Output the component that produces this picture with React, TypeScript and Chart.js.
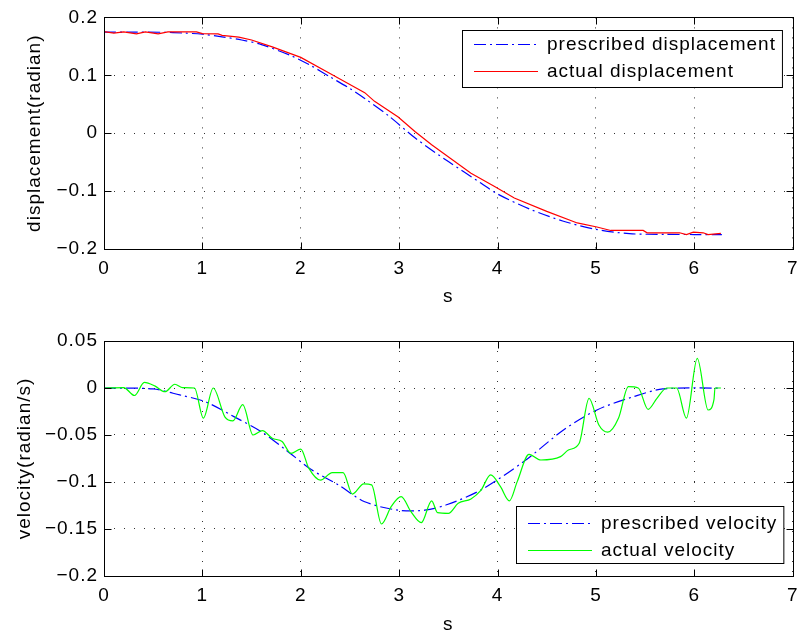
import React, { useEffect, useRef } from 'react';
import { Chart, registerables } from 'chart.js';
Chart.register(...registerables);

const FONT = '"Liberation Sans", Arial, Helvetica, sans-serif';
const FONT_SIZE = 19;
const LETTER_SPACING = '1px';

// ---- axis ticks ----
const xMin = 0;
const xMax = 7;
const xStep = 1;
const dispMin = -0.2;
const dispMax = 0.2;
const dispStep = 0.1;
const velMin = -0.2;
const velMax = 0.05;
const velStep = 0.05;

// ---- labels ----
const xTitle = 's';
const dispTitle = 'displacement(radian)';
const velTitle = 'velocity(radian/s)';
const dispLegend = ['prescribed displacement', 'actual displacement'];
const velLegend = ['prescribed velocity', 'actual velocity'];

// ---- displacement data ----
const presDispT = [0, 0.3, 0.6, 0.8, 1.0, 1.2, 1.4, 1.6, 1.9, 2.1, 2.3, 2.5, 2.65, 2.9, 3.16, 3.5, 3.83, 4.0, 4.34, 4.67, 5.0, 5.34, 5.7, 6.0, 6.28];
const presDispV = [0.1745, 0.1745, 0.1743, 0.173, 0.171, 0.1665, 0.161, 0.153, 0.134, 0.117, 0.097, 0.077, 0.06, 0.029, -0.008, -0.049, -0.086, -0.105, -0.132, -0.152, -0.166, -0.1735, -0.1748, -0.175, -0.175];

const actDispT = [0, 0.1, 0.2, 0.33, 0.42, 0.55, 0.65, 0.94, 1.0, 1.16, 1.2, 1.37, 1.5, 1.71, 2.0, 2.32, 2.65, 2.75, 2.99, 3.16, 3.33, 3.73, 3.97, 4.17, 4.5, 4.81, 5.01, 5.15, 5.48, 5.52, 5.85, 5.92, 5.99, 6.09, 6.14, 6.27];
const actDispV = [0.1755, 0.173, 0.175, 0.1715, 0.175, 0.1715, 0.175, 0.175, 0.172, 0.1715, 0.169, 0.166, 0.161, 0.149, 0.131, 0.101, 0.07, 0.055, 0.028, 0.003, -0.02, -0.069, -0.092, -0.112, -0.135, -0.155, -0.162, -0.168, -0.168, -0.172, -0.172, -0.175, -0.171, -0.172, -0.175, -0.173];

// ---- velocity data ----
const presVelT = [0, 0.5, 0.77, 1.03, 1.33, 1.6, 1.85, 2.11, 2.38, 2.65, 2.99, 3.26, 3.49, 3.83, 4.27, 4.67, 5.01, 5.38, 5.68, 6.27];
const presVelV = [0, -0.001, -0.0074, -0.0146, -0.031, -0.0465, -0.066, -0.087, -0.103, -0.121, -0.13, -0.13, -0.124, -0.1085, -0.078, -0.0447, -0.0234, -0.0093, -0.001, 0];

const actVelT = [0, 0.2, 0.31, 0.41, 0.52, 0.62, 0.72, 0.8, 0.92, 1.01, 1.11, 1.23, 1.31, 1.41, 1.515, 1.61, 1.71, 1.81, 1.9, 2.0, 2.08, 2.2, 2.32, 2.43, 2.525, 2.64, 2.72, 2.82, 2.92, 3.02, 3.12, 3.225, 3.33, 3.39, 3.5, 3.6, 3.73, 3.83, 3.93, 4.03, 4.12, 4.2, 4.32, 4.44, 4.64, 4.72, 4.83, 4.93, 5.03, 5.12, 5.23, 5.33, 5.43, 5.53, 5.62, 5.72, 5.82, 5.92, 6.03, 6.14, 6.2, 6.21, 6.27];
const actVelV = [0, 0.0005, -0.008, 0.006, 0.002, -0.004, 0.004, 0.0005, 0, -0.032, 0, -0.031, -0.035, -0.0177, -0.05, -0.0454, -0.0535, -0.057, -0.0695, -0.065, -0.085, -0.098, -0.09, -0.09, -0.1128, -0.102, -0.103, -0.1447, -0.126, -0.1156, -0.1316, -0.1433, -0.12, -0.1326, -0.1333, -0.1227, -0.118, -0.109, -0.0925, -0.105, -0.12, -0.0996, -0.0706, -0.0766, -0.073, -0.066, -0.0588, -0.011, -0.0394, -0.047, -0.032, 0.0014, 0, -0.0227, -0.011, 0, 0, -0.032, 0.0316, -0.0234, -0.012, 0, 0];

const BLUE = 'rgb(0,0,255)';
const RED = 'rgb(255,0,0)';
const GREEN = 'rgb(0,255,0)';
const DASHDOT = [12, 4, 2, 4];

function pts(t: number[], v: number[]) {
  return t.map((x, i) => ({ x, y: v[i] }));
}

function fmt(v: number) {
  const r = Number(v.toFixed(3));
  if (r === 0) return '0';
  return r < 0 ? '\u2212' + String(Math.abs(r)) : String(r);
}

type LegendItem = { label: string; color: string; dash: number[] };

type PlotCfg = {
  yTitle: string;
  yTitleX: number;
  xTitleBaseline: number;
  legend: LegendItem[];
  legendPos: 'top' | 'bottom';
  legendRightInset: number;
  legendRows: number[];
};

function makePlugin(cfg: PlotCfg) {
  return {
    id: 'matlabStyle',
    beforeDraw(chart: any) {
      const ctx = chart.ctx;
      ctx.letterSpacing = LETTER_SPACING;
    },
    afterDraw(chart: any) {
      const ctx: CanvasRenderingContext2D = chart.ctx;
      const { left, right, top, bottom } = chart.chartArea;
      const xs = chart.scales.x;
      const ys = chart.scales.y;
      const L = Math.round(left) + 0.5;
      const R = Math.round(right) + 0.5;
      const T = Math.round(top) + 0.5;
      const B = Math.round(bottom) + 0.5;
      ctx.save();
      (ctx as any).letterSpacing = LETTER_SPACING;
      ctx.strokeStyle = '#000';
      ctx.lineWidth = 1;
      ctx.setLineDash([]);
      ctx.strokeRect(L, T, R - L, B - T);
      const TL = 7;
      ctx.beginPath();
      for (const tk of xs.ticks) {
        const px = Math.round(xs.getPixelForValue(tk.value)) + 0.5;
        ctx.moveTo(px, B); ctx.lineTo(px, B - TL);
        ctx.moveTo(px, T); ctx.lineTo(px, T + TL);
      }
      for (const tk of ys.ticks) {
        const py = Math.round(ys.getPixelForValue(tk.value)) + 0.5;
        ctx.moveTo(L, py); ctx.lineTo(L + TL, py);
        ctx.moveTo(R, py); ctx.lineTo(R - TL, py);
      }
      ctx.stroke();

      // titles
      ctx.fillStyle = '#000';
      ctx.font = `${FONT_SIZE}px ${FONT}`;
      ctx.textAlign = 'center';
      ctx.textBaseline = 'alphabetic';
      ctx.fillText(xTitle, (left + right) / 2, cfg.xTitleBaseline);
      ctx.save();
      ctx.translate(cfg.yTitleX, (top + bottom) / 2);
      ctx.rotate(-Math.PI / 2);
      ctx.fillText(cfg.yTitle, 0, 0);
      ctx.restore();

      // legend
      const textW = Math.max(...cfg.legend.map((it) => ctx.measureText(it.label).width));
      const lineStart = 12;
      const lineLen = 64;
      const textOff = 85;
      const padR = 6;
      const w = textOff + textW + padR;
      const h = 57;
      const x1 = Math.round(right - cfg.legendRightInset - w);
      const y1 = cfg.legendPos === 'top' ? Math.round(top + 13) : Math.round(bottom - 13 - h);
      ctx.fillStyle = '#fff';
      ctx.fillRect(x1, y1, w, h);
      ctx.strokeStyle = '#000';
      ctx.lineWidth = 1;
      ctx.strokeRect(x1 + 0.5, y1 + 0.5, w, h);
      cfg.legend.forEach((it, i) => {
        const ry = y1 + cfg.legendRows[i];
        ctx.strokeStyle = it.color;
        ctx.lineWidth = 1;
        ctx.setLineDash(it.dash);
        ctx.beginPath();
        ctx.moveTo(x1 + lineStart, Math.round(ry) + 0.5);
        ctx.lineTo(x1 + lineStart + lineLen, Math.round(ry) + 0.5);
        ctx.stroke();
        ctx.setLineDash([]);
        ctx.fillStyle = '#000';
        ctx.textAlign = 'left';
        ctx.textBaseline = 'middle';
        ctx.fillText(it.label, x1 + textOff, ry + 1);
      });
      ctx.restore();
    },
  };
}

function makeConfig(
  datasets: any[],
  yMin: number,
  yMax: number,
  yStep: number,
  padTop: number,
  xAxisHeight: number,
  cfg: PlotCfg
): any {
  return {
    type: 'line',
    data: { datasets },
    options: {
      responsive: false,
      animation: false,
      devicePixelRatio: 1,
      layout: { padding: { top: padTop, right: 9, left: 0, bottom: 0 } },
      plugins: { legend: { display: false }, tooltip: { enabled: false } },
      elements: { point: { radius: 0 } },
      scales: {
        x: {
          type: 'linear',
          min: xMin,
          max: xMax,
          afterFit: (s: any) => { s.height = xAxisHeight; },
          ticks: {
            stepSize: xStep,
            autoSkip: false,
            maxRotation: 0,
            padding: 8,
            color: '#000',
            font: { family: FONT, size: FONT_SIZE },
            callback: (v: any) => fmt(Number(v)),
          },
          grid: { color: '#333', lineWidth: 1, drawTicks: false },
          border: { display: false, dash: [1, 9] },
        },
        y: {
          type: 'linear',
          min: yMin,
          max: yMax,
          afterFit: (s: any) => { s.width = 104; },
          ticks: {
            stepSize: yStep,
            autoSkip: false,
            padding: 6,
            color: '#000',
            font: { family: FONT, size: FONT_SIZE },
            callback: (v: any) => fmt(Number(v)),
          },
          grid: { color: '#333', lineWidth: 1, drawTicks: false },
          border: { display: false, dash: [1, 9] },
        },
      },
    },
    plugins: [makePlugin(cfg)],
  };
}

const TOP_H = 320;
const BOT_H = 315;

export default function App() {
  const topRef = useRef<HTMLCanvasElement>(null);
  const botRef = useRef<HTMLCanvasElement>(null);

  useEffect(() => {
    const topChart = new Chart(
      topRef.current as HTMLCanvasElement,
      makeConfig(
        [
          {
            label: dispLegend[0],
            data: pts(presDispT, presDispV),
            borderColor: BLUE,
            borderWidth: 1.2,
            borderDash: DASHDOT,
            tension: 0.3,
            order: 1,
          },
          {
            label: dispLegend[1],
            data: pts(actDispT, actDispV),
            borderColor: RED,
            borderWidth: 1.2,
            tension: 0,
            order: 0,
          },
        ],
        dispMin,
        dispMax,
        dispStep,
        15,
        TOP_H - 249,
        {
          yTitle: dispTitle,
          yTitleX: 40,
          xTitleBaseline: 302,
          legend: [
            { label: dispLegend[0], color: BLUE, dash: DASHDOT },
            { label: dispLegend[1], color: RED, dash: [] },
          ],
          legendPos: 'top',
          legendRightInset: 11,
          legendRows: [14, 41],
        }
      )
    );
    const botChart = new Chart(
      botRef.current as HTMLCanvasElement,
      makeConfig(
        [
          {
            label: velLegend[0],
            data: pts(presVelT, presVelV),
            borderColor: BLUE,
            borderWidth: 1.2,
            borderDash: DASHDOT,
            tension: 0.3,
            order: 1,
          },
          {
            label: velLegend[1],
            data: pts(actVelT, actVelV),
            borderColor: GREEN,
            borderWidth: 1.2,
            cubicInterpolationMode: 'monotone',
            order: 0,
          },
        ],
        velMin,
        velMax,
        velStep,
        341 - TOP_H,
        TOP_H + BOT_H - 576,
        {
          yTitle: velTitle,
          yTitleX: 30,
          xTitleBaseline: 630 - TOP_H,
          legend: [
            { label: velLegend[0], color: BLUE, dash: DASHDOT },
            { label: velLegend[1], color: GREEN, dash: [] },
          ],
          legendPos: 'bottom',
          legendRightInset: 9,
          legendRows: [17, 44],
        }
      )
    );
    return () => {
      topChart.destroy();
      botChart.destroy();
    };
  }, []);

  return (
    <div style={{ position: 'fixed', left: 0, top: 0, width: 806, height: 635, background: '#fff' }}>
      <canvas ref={topRef} width={806} height={TOP_H} style={{ position: 'absolute', left: 0, top: 0, width: 806, height: TOP_H }} />
      <canvas ref={botRef} width={806} height={BOT_H} style={{ position: 'absolute', left: 0, top: TOP_H, width: 806, height: BOT_H }} />
    </div>
  );
}
